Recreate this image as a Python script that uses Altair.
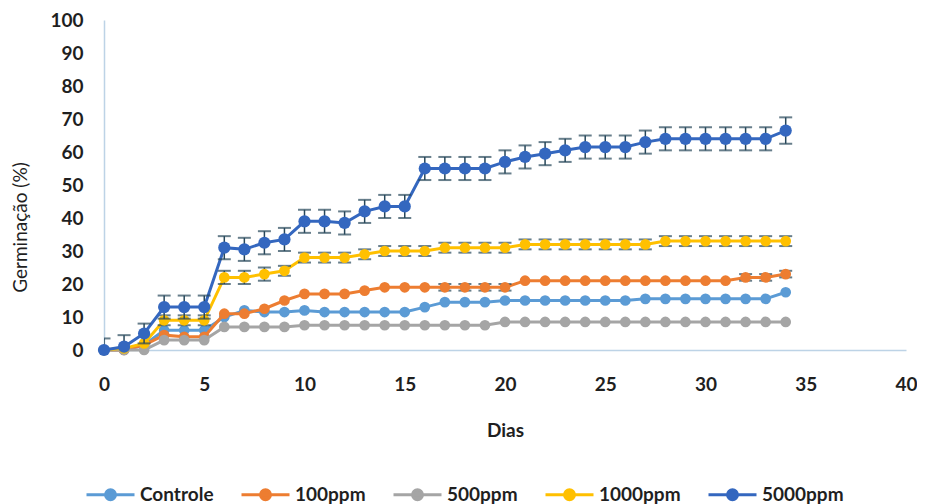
import altair as alt
import pandas as pd

dias = list(range(35))
series = ["Controle", "100ppm", "500ppm", "1000ppm", "5000ppm"]
cores = ["#5B9BD5", "#ED7D31", "#A5A5A5", "#FFC000", "#3467BF"]

controle = [0, 0, 1.5, 6, 6, 6, 10, 12, 11.5, 11.5, 12, 11.5, 11.5, 11.5, 11.5, 11.5, 13, 14.5,
            14.5, 14.5, 15, 15, 15, 15, 15, 15, 15, 15.5, 15.5, 15.5, 15.5, 15.5, 15.5, 15.5, 17.5]
ppm100 = [0, 0, 1.5, 4.5, 4, 4, 11, 11, 12.5, 15, 17, 17, 17, 18, 19, 19, 19, 19, 19, 19, 19,
          21, 21, 21, 21, 21, 21, 21, 21, 21, 21, 21, 22, 22, 23]
ppm500 = [0, 0, 0, 3, 3, 3, 7, 7, 7, 7, 7.5, 7.5, 7.5, 7.5, 7.5, 7.5, 7.5, 7.5, 7.5, 7.5, 8.5,
          8.5, 8.5, 8.5, 8.5, 8.5, 8.5, 8.5, 8.5, 8.5, 8.5, 8.5, 8.5, 8.5, 8.5]
ppm1000 = [0, 0.5, 2, 9, 9, 9, 22, 22, 23, 24, 28, 28, 28, 29, 30, 30, 30, 31, 31, 31, 31,
           32, 32, 32, 32, 32, 32, 32, 33, 33, 33, 33, 33, 33, 33]
ppm5000 = [0, 1, 5, 13, 13, 13, 31, 30.5, 32.5, 33.5, 39, 39, 38.5, 42, 43.5, 43.5, 55, 55, 55,
           55, 57, 58.5, 59.5, 60.5, 61.5, 61.5, 61.5, 63, 64, 64, 64, 64, 64, 64, 66.5]

err_controle = [0] * 35
err_100 = [0, 0, 0, 0, 0, 0, 0, 0, 0, 0, 0, 0, 0, 0, 0, 0, 0, 1, 1, 1, 1,
           0, 0, 0, 0, 0, 0, 0, 0, 0, 0, 0, 1, 1, 1]
err_500 = [0] * 35
err_1000 = [0, 0, 0, 1.5, 1.5, 1.5, 2, 2, 2, 1.5, 1.5, 1.5, 1.5, 1.5, 1.5, 1.5, 1.5, 1.5, 1.5,
            1.5, 1.5, 1.5, 1.5, 1.5, 1.5, 1.5, 1.5, 1.5, 1.5, 1.5, 1.5, 1.5, 1.5, 1.5, 1.5]
err_5000 = [3.5, 3.5, 3, 3.5, 3.5, 3.5, 3.5, 3.5, 3.5, 3.5, 3.5, 3.5, 3.5, 3.5, 3.5, 3.5, 3.5,
            3.5, 3.5, 3.5, 3.5, 3.5, 3.5, 3.5, 3.5, 3.5, 3.5, 3.5, 3.5, 3.5, 3.5, 3.5, 3.5, 3.5, 4]

valores = [controle, ppm100, ppm500, ppm1000, ppm5000]
erros = [err_controle, err_100, err_500, err_1000, err_5000]

rows = []
for nome, vals, errs in zip(series, valores, erros):
    for d, v, e in zip(dias, vals, errs):
        rows.append({"dia": d, "serie": nome, "valor": v, "err": e, "lo": v - e, "hi": v + e})
df = pd.DataFrame(rows)

FONT = "Lato"
TXT = "#1f1f1f"

xaxis = alt.Axis(values=list(range(0, 41, 5)), title="Dias", grid=False, ticks=False,
                 domainColor="#BDD3E6", domainWidth=1.5, labelFont=FONT, labelFontSize=19,
                 labelFontWeight="bold", labelColor=TXT, labelPadding=25, labelFlush=False,
                 titleFont=FONT, titleFontSize=19, titleFontWeight="bold", titleColor=TXT,
                 titleY=80, titleBaseline="middle")
yaxis = alt.Axis(values=list(range(0, 101, 10)), title="Germinação (%)", grid=False, ticks=False,
                 domainColor="#BDD3E6", domainWidth=1.5, labelFont=FONT, labelFontSize=19,
                 labelFontWeight="bold", labelColor=TXT, labelPadding=21, labelFlush=False,
                 titleFont=FONT, titleFontSize=19, titleFontWeight="normal", titleColor=TXT,
                 titleAngle=270, titleX=-84, titleY=207, titleAlign="center", titleBaseline="middle")
xscale = alt.Scale(domain=[0, 40], nice=False)
yscale = alt.Scale(domain=[0, 100], nice=False)


def X():
    return alt.X("dia:Q", scale=xscale, axis=xaxis)


def Y(field):
    return alt.Y(f"{field}:Q", scale=yscale, axis=yaxis)


legend = alt.Legend(
    orient="none", legendX=-5, legendY=463, direction="horizontal", title=None,
    symbolType="M-2.4,0L2.4,0M0.5,0A0.5,0.5,0,1,1,-0.5,0A0.5,0.5,0,1,1,0.5,0Z",
    symbolSize=400, symbolStrokeWidth=3, labelFont=FONT, labelFontSize=19,
    labelFontWeight="bold", labelColor=TXT, labelOffset=18, columnPadding=21, padding=0,
    symbolOpacity=1, gridAlign="each",
)
color = alt.Color("serie:N", scale=alt.Scale(domain=series, range=cores), legend=legend)

ERRC = "#27475A"
layers = []
for nome in series:
    base = alt.Chart(df).transform_filter(alt.datum.serie == nome)
    line = base.mark_line(strokeWidth=3).encode(x=X(), y=Y("valor"), color=color)
    ebase = base.transform_filter(alt.datum.err > 0)
    rule = ebase.mark_rule(color=ERRC, strokeWidth=1.5, clip=True).encode(
        x=X(), y=Y("lo"), y2="hi:Q")
    cap_lo = ebase.mark_tick(color=ERRC, orient="horizontal", size=13, thickness=2, clip=True).encode(
        x=X(), y=Y("lo"))
    cap_hi = ebase.mark_tick(color=ERRC, orient="horizontal", size=13, thickness=2, clip=True).encode(
        x=X(), y=Y("hi"))
    size = 150 if nome == "5000ppm" else 115
    pts = base.mark_circle(size=size, opacity=1).encode(x=X(), y=Y("valor"), color=color)
    layers += [line, rule, cap_lo, cap_hi, pts]

chart = alt.layer(*layers).properties(
    width=802, height=330, autosize="none",
    padding={"left": 96, "top": 12, "right": 11, "bottom": 154},
    background="white",
).configure_view(stroke=None)

chart.save("out.html", embed_options={"renderer": "svg", "actions": False})
